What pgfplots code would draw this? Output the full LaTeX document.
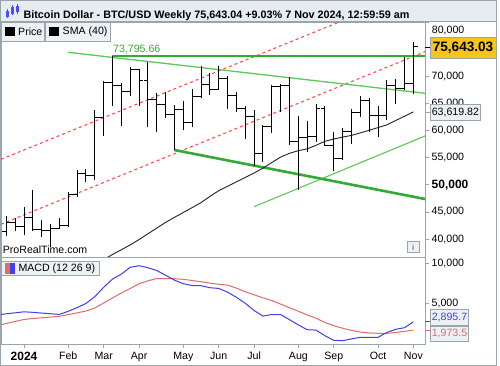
\documentclass[border=0pt]{standalone}
\usepackage{pgfplots}
\pgfplotsset{compat=1.18}
\usepackage{pgfplotstable}
\usepackage{fontspec}
\setmainfont{Liberation Sans}

\definecolor{gbold}{HTML}{33AA33}
\definecolor{glight}{HTML}{5CC85C}
\definecolor{rdash}{HTML}{FF4D4D}
\definecolor{mblue}{HTML}{3F3FEF}
\definecolor{mred}{HTML}{E36A6A}
\definecolor{frm}{HTML}{9AA4AC}
\definecolor{hdr}{HTML}{E6ECF0}
\definecolor{gold}{HTML}{F5C518}
\definecolor{boxbg}{HTML}{EEF1F3}
\definecolor{smac}{HTML}{222222}

\pgfdeclareplotmark{otick}{\pgfpathmoveto{\pgfqpoint{0pt}{0pt}}\pgfpathlineto{\pgfqpoint{-4.4pt}{0pt}}\pgfusepathqstroke}
\pgfdeclareplotmark{ctick}{\pgfpathmoveto{\pgfqpoint{0pt}{0pt}}\pgfpathlineto{\pgfqpoint{4.4pt}{0pt}}\pgfusepathqstroke}

% weekly OHLC, thousands of USD; week 0 = 1 Jan 2024
\pgfplotstableread{
i O H L C
-2 41.36 44.30 40.55 42.99
-1 42.99 43.80 41.40 42.28
0 42.28 45.90 40.75 43.93
1 43.93 49.05 41.50 41.73
2 41.73 43.60 40.30 41.58
3 41.58 42.80 38.50 42.03
4 42.03 43.88 41.80 42.58
5 42.58 48.60 42.26 48.30
6 48.30 52.80 47.70 52.14
7 52.14 52.99 50.60 51.73
8 51.73 63.90 50.90 62.40
9 62.40 69.20 59.00 68.96
10 68.96 73.80 64.50 68.38
11 68.38 68.90 60.80 67.20
12 67.20 71.80 66.50 71.30
13 71.30 71.50 64.50 69.30
14 69.30 72.80 60.70 65.70
15 65.70 66.90 59.70 64.90
16 64.90 67.20 62.40 63.10
17 63.10 64.70 56.50 63.90
18 63.90 65.50 60.20 61.50
19 61.50 67.70 60.70 66.30
20 66.30 71.90 66.00 68.50
21 68.50 70.60 66.60 67.70
22 67.70 71.90 67.50 69.70
23 69.70 70.20 64.00 66.60
24 66.60 67.20 63.40 64.20
25 64.20 64.50 58.40 62.70
26 62.70 63.80 53.50 55.80
27 55.80 61.00 54.30 60.80
28 60.80 68.40 59.60 68.20
29 68.20 68.70 63.50 68.30
30 68.30 70.00 57.30 58.10
31 58.10 62.70 49.00 58.70
32 58.70 61.80 56.10 58.90
33 58.90 65.00 57.90 64.20
34 64.20 64.50 57.20 57.30
35 57.30 59.80 52.60 54.80
36 54.80 60.60 54.60 59.90
37 59.90 64.10 57.50 63.40
38 63.40 66.50 62.60 65.60
39 65.60 66.00 59.80 62.80
40 62.80 64.50 58.90 62.80
41 62.80 69.40 62.00 68.40
42 68.40 69.50 65.00 67.90
43 67.90 73.60 67.50 68.70
44 68.70 76.50 66.80 75.64
}\ohlc

\pgfplotstableread{
i s
9 36.2
10 37.14
11 38.02
12 38.90
13 39.90
14 40.96
15 42.01
16 43.07
17 44.0
18 44.9
19 45.8
20 46.73
21 47.86
22 48.93
23 49.75
24 50.57
25 51.39
26 52.2
27 53.1
28 54.13
29 55.15
30 55.84
31 56.33
32 56.66
33 57.32
34 58.06
35 58.48
36 58.83
37 59.15
38 59.61
39 60.10
40 60.59
41 61.09
42 61.91
43 62.69
44 63.5
}\sma

\pgfplotstableread{
i m s
-3 3.55 2.22
-2 3.69 2.48
-1 3.81 2.73
0 3.94 2.98
1 3.87 3.09
2 3.78 3.19
3 3.70 3.28
4 3.61 3.38
5 4.00 3.59
6 4.46 3.80
7 4.98 4.04
8 5.83 4.42
9 7.00 5.03
10 8.03 5.68
11 8.65 6.28
12 9.50 6.86
13 9.70 7.45
14 9.45 7.81
15 9.10 8.10
16 8.50 8.10
17 7.90 8.07
18 7.45 8.00
19 7.22 7.85
20 7.20 7.70
21 6.95 7.53
22 6.86 7.38
23 6.40 7.28
24 5.75 6.90
25 5.00 6.45
26 4.10 6.06
27 3.40 5.69
28 3.60 5.34
29 3.60 4.90
30 2.95 4.45
31 2.30 4.00
32 1.70 3.55
33 1.65 3.14
34 0.95 2.60
35 0.38 2.20
36 0.32 1.88
37 0.55 1.62
38 0.75 1.40
39 0.75 1.29
40 0.75 1.25
41 1.35 1.25
42 1.75 1.35
43 1.95 1.50
44 2.70 1.65
}\macd

\begin{document}
\begin{tikzpicture}
\fill[white] (0pt,0pt) rectangle (500pt,366pt);
% header
\fill[hdr] (0.5pt,344.3pt) rectangle (496.5pt,365.5pt);
% icon
\fill[blue!70] (6pt,349pt) rectangle (8.5pt,355pt);
\draw[blue!70, line width=0.6pt] (7.25pt,347.5pt) -- (7.25pt,356.5pt);
\fill[blue!70] (11pt,352pt) rectangle (13.5pt,359pt);
\draw[blue!70, line width=0.6pt] (12.25pt,350.5pt) -- (12.25pt,361pt);
\fill[blue!70] (16pt,354pt) rectangle (18.5pt,360pt);
\draw[blue!70, line width=0.6pt] (17.25pt,352pt) -- (17.25pt,362pt);
\node[anchor=base west, inner sep=0pt, font=\bfseries\fontsize{10.8}{12}\selectfont] at (23.3pt,347.8pt)
  {Bitcoin Dollar - BTC/USD Weekly 75,643.04 +9.03\% 7 Nov 2024, 12:59:59 am};

\begin{axis}[
  at={(1pt,109pt)}, anchor=south west, scale only axis,
  width=424pt, height=235pt,
  xmin=-2.6, xmax=45.31, ymin=36.673, ymax=80.11,
  axis line style={frm, line width=0.8pt},
  xtick=\empty,
  ytick={40,45,50,55,60,65,70,80},
  yticklabels={{40,000},{45,000},{\bfseries\fontsize{12}{13}\selectfont 50,000},{55,000},{60,000},{65,000},{70,000},{}},
  ytick pos=right, yticklabel pos=right, tick align=outside,
  major tick length=4pt, tick style={frm, line width=0.8pt},
  yticklabel style={font=\fontsize{10.6}{12}\selectfont, inner xsep=2.5pt},
]
\addplot[rdash, line width=1.1pt, dash pattern=on 3pt off 3pt] coordinates {(-2.6,54.73) (45.31,86.54)};
\addplot[rdash, line width=1.1pt, dash pattern=on 3pt off 3pt] coordinates {(-2.6,42.72) (45.31,74.62)};
\addplot[glight, line width=1.3pt] coordinates {(4.97,74.51) (45.31,66.93)};
\addplot[glight, line width=1.1pt] coordinates {(25.99,45.97) (45.31,59.04)};
\addplot[gbold, line width=2.6pt] coordinates {(9.94,73.796) (45.31,73.796)};
\addplot[gbold, line width=2.6pt] coordinates {(16.98,56.45) (45.31,47.39)};
\addplot[smac, line width=0.9pt] table[x=i, y=s] \sma;
\addplot[black, line width=1.0pt, only marks, mark=otick] table[x=i, y=O] \ohlc;
\addplot[black, line width=1.0pt, only marks, mark=ctick,
  error bars/.cd, y dir=both, y explicit, error mark=none,
  error bar style={line width=1.0pt, black}]
  table[x=i, y=C, y error plus expr=\thisrow{H}-\thisrow{C}, y error minus expr=\thisrow{C}-\thisrow{L}] \ohlc;
\end{axis}

\begin{axis}[
  at={(1pt,21.7pt)}, anchor=south west, scale only axis,
  width=424pt, height=87.3pt,
  xmin=-2.6, xmax=45.31, ymin=-0.125, ymax=10.79,
  axis line style={frm, line width=0.8pt},
  xtick={0,5,9,13,18,22,26,31,35,40,44},
  xticklabels={{\bfseries\fontsize{12}{13}\selectfont 2024},Feb,Mar,Apr,May,Jun,Jul,Aug,Sep,Oct,Nov},
  xtick pos=bottom, ytick pos=right, yticklabel pos=right, tick align=outside,
  ytick={5,10}, yticklabels={{5,000},{10,000}},
  major tick length=4pt, tick style={frm, line width=0.8pt},
  ticklabel style={font=\fontsize{10.6}{12}\selectfont},
  yticklabel style={inner xsep=2.5pt},
]
\addplot[mred, line width=1pt] table[x=i, y=s] \macd;
\addplot[mblue, line width=1pt] table[x=i, y=m] \macd;
\end{axis}

% legends
\begin{scope}[font=\fontsize{10.6}{12}\selectfont]
\node[anchor=west, inner sep=0pt] at (431.7pt,335.3pt) {80,000};
\draw[frm, fill=boxbg, line width=0.6pt] (1pt,325pt) rectangle (44pt,344pt);
\fill[black] (5pt,330pt) rectangle (15pt,339.3pt);
\node[anchor=west, inner sep=0pt] at (18pt,334.6pt) {Price};
\draw[frm, fill=boxbg, line width=0.6pt] (45pt,325pt) rectangle (110.7pt,344pt);
\fill[black] (49.3pt,330pt) rectangle (59.3pt,339.3pt);
\node[anchor=west, inner sep=0pt] at (62.5pt,334.6pt) {SMA (40)};
\node[anchor=west, inner sep=0pt, text=gbold] at (113pt,317pt) {73,795.66};
\node[anchor=west, inner sep=0pt] at (2.7pt,116.5pt) {ProRealTime.com};
\draw[frm, fill=boxbg, line width=0.6pt] (1pt,91pt) rectangle (99pt,104.3pt);
\fill[mred] (5pt,92pt) rectangle (10pt,103.3pt);
\fill[mblue] (10pt,92pt) rectangle (15pt,103.3pt);
\node[anchor=west, inner sep=0pt] at (18.3pt,97.6pt) {MACD (12 26 9)};
% info icon
\draw[frm, fill=boxbg, line width=0.5pt] (407.7pt,113.3pt) rectangle (419pt,124.3pt);
\node[text=gray, font=\bfseries\fontsize{8}{9}\selectfont, inner sep=0pt] at (413.3pt,118.8pt) {i};
% right value boxes
\draw[black, line width=0.8pt] (425pt,318.5pt) -- (430pt,318.5pt);
\node[anchor=west, fill=gold, draw=frm, line width=0.6pt, inner xsep=2.5pt, minimum height=21pt,
  font=\bfseries\fontsize{13.6}{15}\selectfont] at (430pt,318.5pt) {75,643.03};
\draw[frm, line width=0.8pt] (425pt,253.5pt) -- (430pt,253.5pt);
\node[anchor=west, fill=boxbg, draw=frm, line width=0.6pt, inner xsep=1.5pt, minimum height=15pt] at (430pt,253.5pt) {63,619.82};
\draw[mblue, line width=0.8pt] (425pt,44.3pt) -- (430pt,44.3pt);
\node[anchor=west, fill=boxbg, draw=frm, line width=0.6pt, inner xsep=1.5pt, minimum height=15.7pt, text=mblue] at (430pt,48.8pt) {2,895.7};
\draw[mred, line width=0.8pt] (425pt,36pt) -- (430pt,36pt);
\node[anchor=west, fill=boxbg, draw=frm, line width=0.6pt, inner xsep=1.5pt, minimum height=15.7pt, text=mred] at (430pt,32.2pt) {1,973.5};
\end{scope}
% outer frame
\draw[frm, line width=0.8pt] (0.5pt,0.5pt) rectangle (496.5pt,365.5pt);
\draw[frm, line width=0.8pt] (0.5pt,344.3pt) -- (496.5pt,344.3pt);
\end{tikzpicture}
\end{document}
